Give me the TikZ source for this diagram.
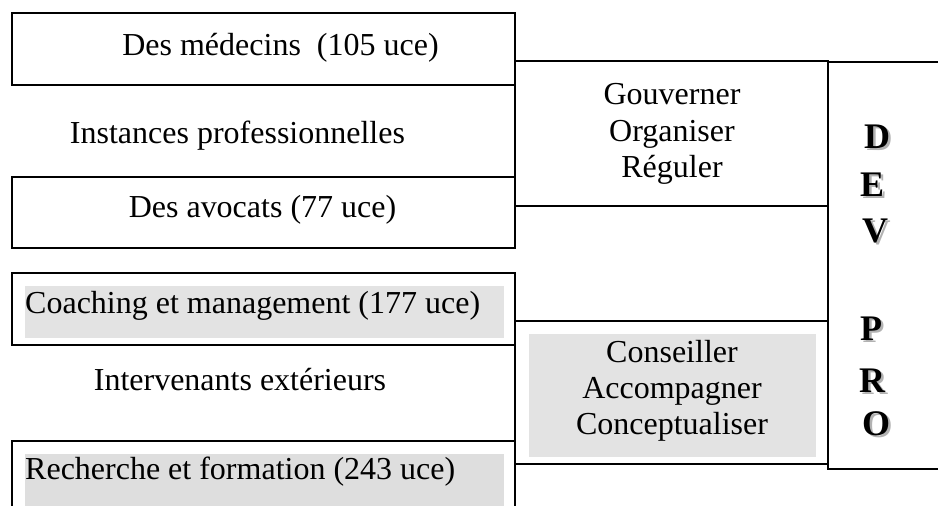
\documentclass[tikz,border=0pt]{standalone}
\usepackage{fontspec}
\setmainfont{Liberation Serif}
\usepackage{tikz}

% lettre avec ombre grise decalee
\newcommand{\lettreombre}[1]{\rlap{\kern2.5pt\raisebox{-2pt}{\color{black!30}#1}}#1}

\tikzset{
  cadre/.style={draw, line width=2pt, inner sep=0pt, outer sep=0pt},
  grise/.style={fill=black!11, draw=none, inner sep=0pt, outer sep=0pt},
  texte/.style={inner sep=0pt, font=\fontsize{32}{36.3}\selectfont},
  lettre/.style={inner sep=0pt, font=\fontsize{36}{40}\selectfont\bfseries}
}

\begin{document}
\begin{tikzpicture}[x=1pt, y=-1pt]
\clip (0,0) rectangle (938,506);

% fonds gris
\node[grise, minimum width=479pt, minimum height=52pt] (fcoach) at (264.5,312) {};
\node[grise, fill=black!13, minimum width=479pt, minimum height=70pt] (frech) at (264.5,489) {};
\node[grise, minimum width=287pt, minimum height=123pt] (fcons) at (672.5,395.5) {};

% cadres de gauche
\node[cadre, minimum width=503pt, minimum height=72pt] (med) at (263.5,49) {};
\node[cadre, minimum width=503pt, minimum height=71pt] (avo) at (263.5,212.5) {};
\node[cadre, minimum width=503pt, minimum height=72pt] (coach) at (263.5,309) {};
\node[cadre, minimum width=503pt, minimum height=110pt] (rech) at (263.5,496) {};

% cadres de droite
\node[cadre, minimum width=313pt, minimum height=145pt] (gouv) at (671.5,133.5) {};
\node[cadre, minimum width=313pt, minimum height=143pt] (cons) at (671.5,392.5) {};
\node[cadre, minimum width=140pt, minimum height=407pt] (dev) at (898,265.5) {};

% textes
\node[texte, anchor=base] (tmed) at (280.5,56) {Des médecins~ (105 uce)};
\node[texte, anchor=base] (tinst) at (237.5,143) {Instances professionnelles};
\node[texte, anchor=base] (tavo) at (262.5,217) {Des avocats (77 uce)};
\node[texte, anchor=base west] (tcoach) at (25,313) {Coaching et management (177 uce)};
\node[texte, anchor=base] (tinter) at (240,390) {Intervenants extérieurs};
\node[texte, anchor=base west] (trech) at (25,479) {Recherche et formation (243 uce)};
\node[texte, align=center] (tgouv) at (672,134) {Gouverner\\Organiser\\Réguler};
\node[texte, align=center] (tcons) at (672,391) {Conseiller\\Accompagner\\Conceptualiser};

% DEV PRO
\foreach \ch/\xx/\yy [count=\i] in {D/877/137.5, E/872/186, V/875/232, P/871/330, R/872/382, O/876/425}{
  \node[lettre] (lettre\i) at (\xx,\yy) {\lettreombre{\ch}};
}
\end{tikzpicture}
\end{document}
